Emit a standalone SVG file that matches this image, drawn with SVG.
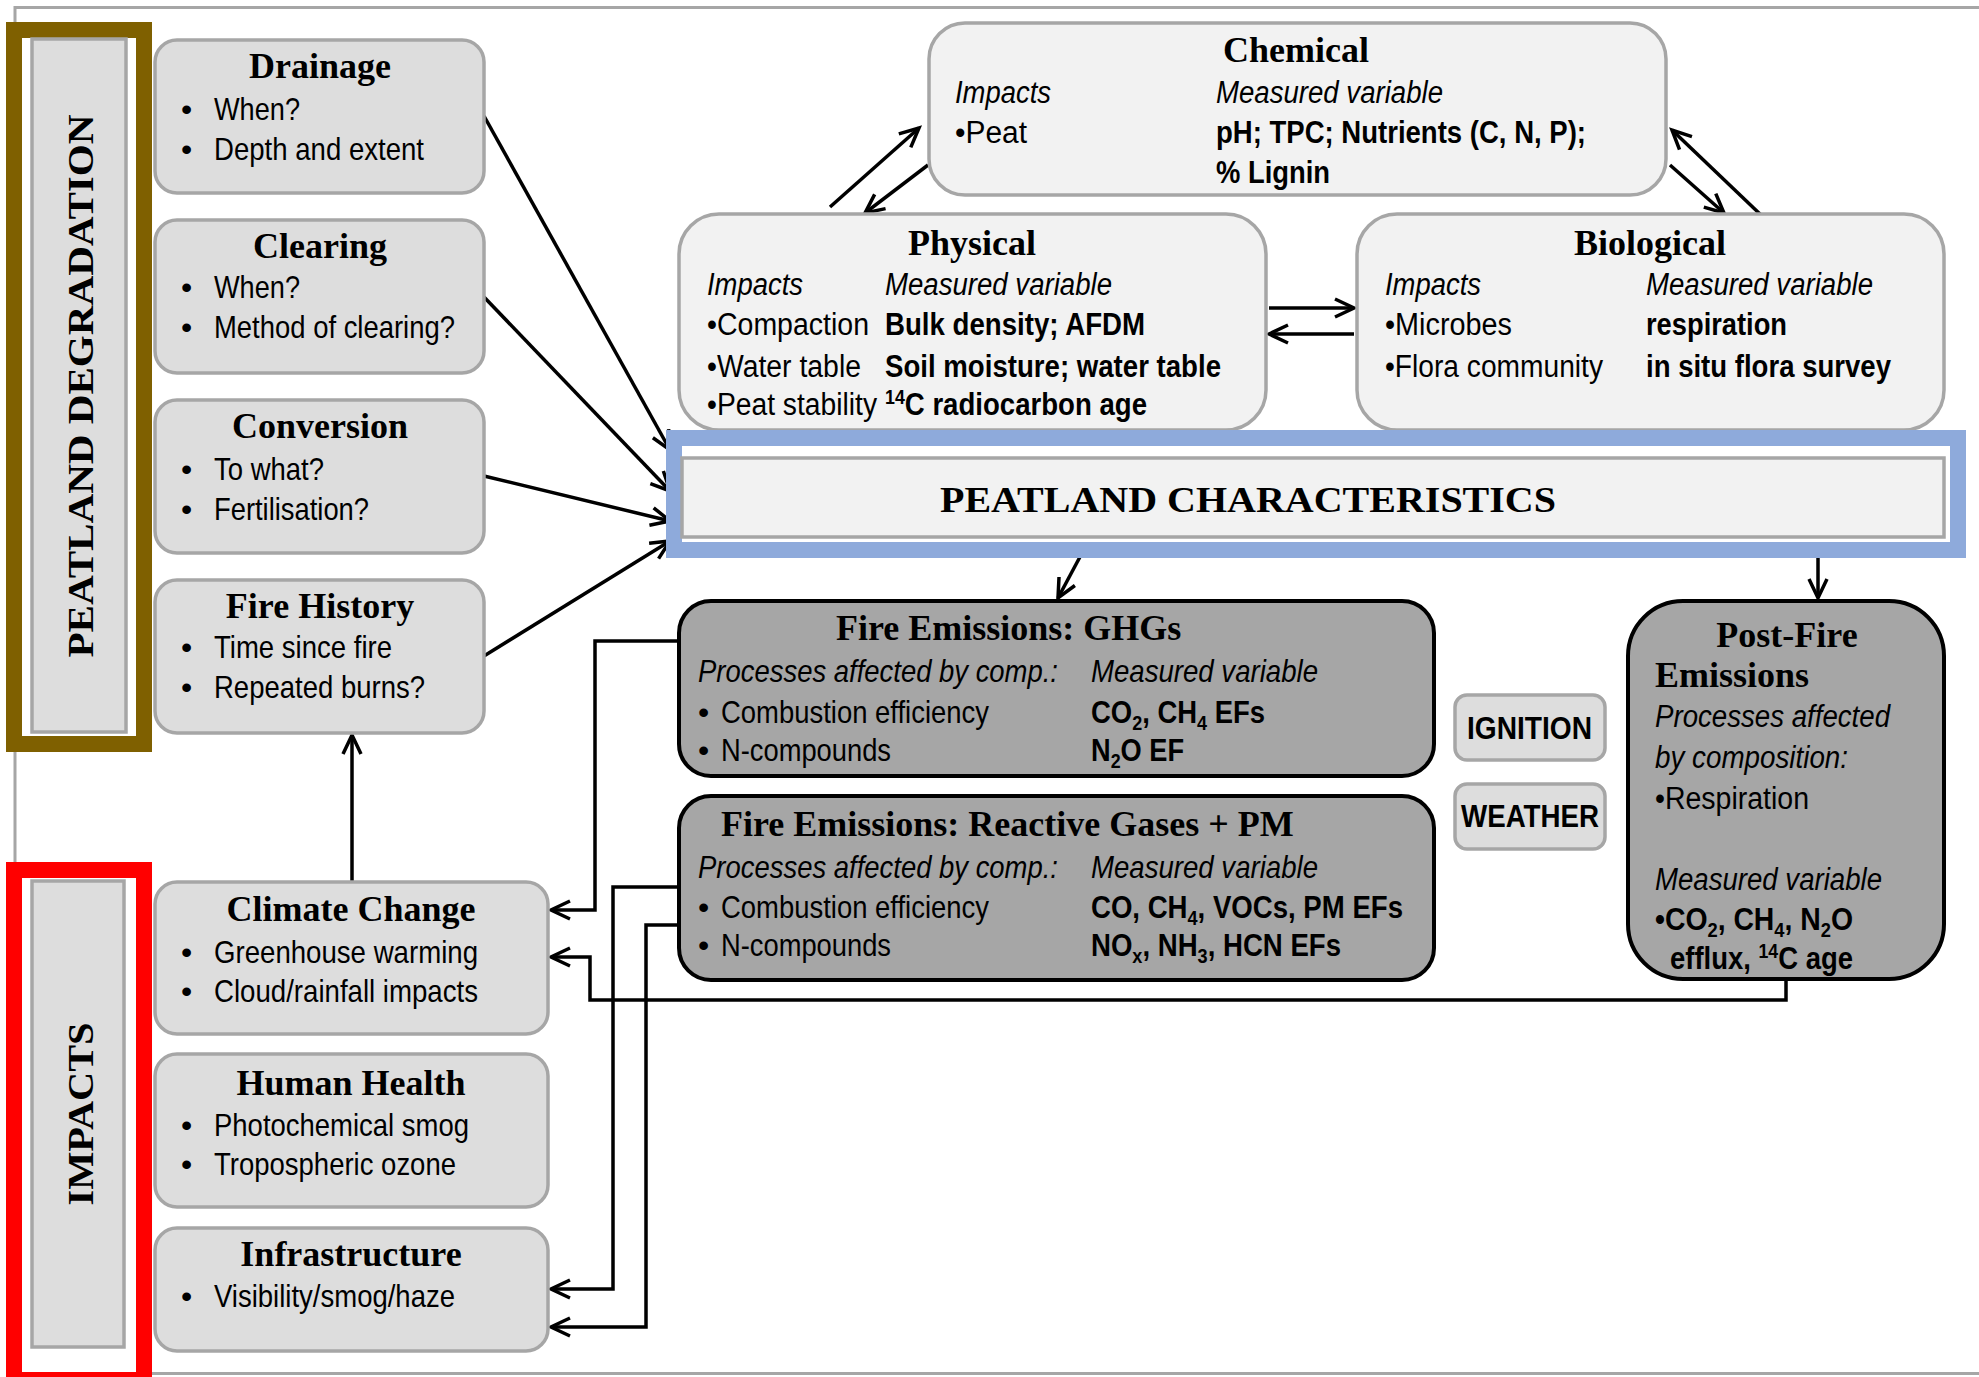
<svg xmlns="http://www.w3.org/2000/svg" width="1979" height="1377" viewBox="0 0 1979 1377">
<defs>
<style>
.t{font-family:"Liberation Serif","Times New Roman",serif;font-weight:bold;font-size:36px;fill:#000}
.s{font-family:"Liberation Sans Narrow","Liberation Sans",Arial,sans-serif;font-size:32px;fill:#000}
.m{font-size:31px}
.i{font-style:italic}
.b{font-weight:bold}
.lb{fill:#dddddd;stroke:#a6a6a6;stroke-width:3.5}
.wb{fill:#f2f2f2;stroke:#a6a6a6;stroke-width:3.5}
.db{fill:#a6a6a6;stroke:#000;stroke-width:4}
.c{fill:none;stroke:#000;stroke-width:3.5;marker-end:url(#arr)}
</style>
<marker id="arr" viewBox="-22 -12 28 24" refX="0" refY="0" markerWidth="28" markerHeight="24" markerUnits="userSpaceOnUse" orient="auto">
<path d="M-19,-9 L0,0 L-19,9" fill="none" stroke="#000" stroke-width="3.5"/>
</marker>
</defs>
<rect width="1979" height="1377" fill="#fff"/>
<rect x="15" y="7.5" width="2000" height="1366" fill="none" stroke="#a6a6a6" stroke-width="3"/>

<g id="connectors">
<line class="c" x1="484" y1="116" x2="670" y2="450"/>
<line class="c" x1="484" y1="297" x2="670" y2="491"/>
<line class="c" x1="484" y1="476" x2="670" y2="521"/>
<line class="c" x1="484" y1="656" x2="670" y2="541"/>
<line class="c" x1="830" y1="207" x2="919" y2="128"/>
<line class="c" x1="928" y1="165" x2="865" y2="213"/>
<line class="c" x1="1761" y1="215" x2="1672" y2="130"/>
<line class="c" x1="1670" y1="165" x2="1724" y2="213"/>
<line class="c" x1="1269" y1="308" x2="1354" y2="308"/>
<line class="c" x1="1354" y1="334" x2="1269" y2="334"/>
<line class="c" x1="1089" y1="540" x2="1058" y2="598"/>
<line class="c" x1="1818" y1="539" x2="1818" y2="598"/>
<line class="c" x1="352" y1="882" x2="352" y2="735"/>
<path class="c" d="M678,641 H595 V910 H551"/>
<path class="c" d="M678,887 H613 V1289 H551"/>
<path class="c" d="M678,925 H646 V1327 H551"/>
<path class="c" d="M1786,979 V1000 H590 V957 H551"/>
</g>

<g id="peatland-degradation">
<rect x="14" y="30" width="130" height="714" fill="none" stroke="#7f6000" stroke-width="16"/>
<rect x="32" y="39" width="94" height="693" class="lb" stroke-width="3"/>
<text class="t" font-size="41" transform="translate(93,386) rotate(-90)" text-anchor="middle" textLength="543" lengthAdjust="spacingAndGlyphs">PEATLAND DEGRADATION</text>
</g>

<g id="impacts">
<rect x="14" y="870" width="130" height="510" fill="none" stroke="#ff0000" stroke-width="16"/>
<rect x="32" y="881" width="92" height="466" class="lb" stroke-width="3"/>
<text class="t" font-size="41" transform="translate(93,1114) rotate(-90)" text-anchor="middle" textLength="183" lengthAdjust="spacingAndGlyphs">IMPACTS</text>
</g>

<g id="drainage">
<rect x="155" y="40" width="329" height="153" rx="22" class="lb"/>
<text class="t" x="320" y="78" text-anchor="middle">Drainage</text>
<text class="s" x="181" y="120">•</text><text class="s" x="214" y="120" textLength="86" lengthAdjust="spacingAndGlyphs">When?</text>
<text class="s" x="181" y="160">•</text><text class="s" x="214" y="160" textLength="210" lengthAdjust="spacingAndGlyphs">Depth and extent</text>
</g>

<g id="clearing">
<rect x="155" y="220" width="329" height="153" rx="22" class="lb"/>
<text class="t" x="320" y="258" text-anchor="middle">Clearing</text>
<text class="s" x="181" y="298">•</text><text class="s" x="214" y="298" textLength="86" lengthAdjust="spacingAndGlyphs">When?</text>
<text class="s" x="181" y="338">•</text><text class="s" x="214" y="338" textLength="241" lengthAdjust="spacingAndGlyphs">Method of clearing?</text>
</g>

<g id="conversion">
<rect x="155" y="400" width="329" height="153" rx="22" class="lb"/>
<text class="t" x="320" y="438" text-anchor="middle">Conversion</text>
<text class="s" x="181" y="480">•</text><text class="s" x="214" y="480" textLength="110" lengthAdjust="spacingAndGlyphs">To what?</text>
<text class="s" x="181" y="520">•</text><text class="s" x="214" y="520" textLength="155" lengthAdjust="spacingAndGlyphs">Fertilisation?</text>
</g>

<g id="fire-history">
<rect x="155" y="580" width="329" height="153" rx="22" class="lb"/>
<text class="t" x="320" y="618" text-anchor="middle">Fire History</text>
<text class="s" x="181" y="658">•</text><text class="s" x="214" y="658" textLength="178" lengthAdjust="spacingAndGlyphs">Time since fire</text>
<text class="s" x="181" y="698">•</text><text class="s" x="214" y="698" textLength="211" lengthAdjust="spacingAndGlyphs">Repeated burns?</text>
</g>

<g id="climate-change">
<rect x="155" y="882" width="393" height="152" rx="22" class="lb"/>
<text class="t" x="351" y="921" text-anchor="middle">Climate Change</text>
<text class="s" x="181" y="963">•</text><text class="s" x="214" y="963" textLength="264" lengthAdjust="spacingAndGlyphs">Greenhouse warming</text>
<text class="s" x="181" y="1002">•</text><text class="s" x="214" y="1002" textLength="264" lengthAdjust="spacingAndGlyphs">Cloud/rainfall impacts</text>
</g>

<g id="human-health">
<rect x="155" y="1054" width="393" height="153" rx="22" class="lb"/>
<text class="t" x="351" y="1095" text-anchor="middle">Human Health</text>
<text class="s" x="181" y="1136">•</text><text class="s" x="214" y="1136" textLength="255" lengthAdjust="spacingAndGlyphs">Photochemical smog</text>
<text class="s" x="181" y="1175">•</text><text class="s" x="214" y="1175" textLength="242" lengthAdjust="spacingAndGlyphs">Tropospheric ozone</text>
</g>

<g id="infrastructure">
<rect x="155" y="1228" width="393" height="123" rx="22" class="lb"/>
<text class="t" x="351" y="1266" text-anchor="middle">Infrastructure</text>
<text class="s" x="181" y="1307">•</text><text class="s" x="214" y="1307" textLength="241" lengthAdjust="spacingAndGlyphs">Visibility/smog/haze</text>
</g>

<g id="chemical">
<rect x="929" y="23" width="737" height="172" rx="36" class="wb"/>
<text class="t" x="1296" y="62" text-anchor="middle">Chemical</text>
<text class="s m i" x="955" y="103" textLength="96" lengthAdjust="spacingAndGlyphs">Impacts</text>
<text class="s m i" x="1216" y="103" textLength="227" lengthAdjust="spacingAndGlyphs">Measured variable</text>
<text class="s m" x="955" y="143" textLength="72" lengthAdjust="spacingAndGlyphs">•Peat</text>
<text class="s m b" x="1216" y="143" textLength="370" lengthAdjust="spacingAndGlyphs">pH; TPC; Nutrients (C, N, P);</text>
<text class="s m b" x="1216" y="183" textLength="114" lengthAdjust="spacingAndGlyphs">% Lignin</text>
</g>

<g id="physical">
<rect x="679" y="214" width="587" height="216" rx="40" class="wb"/>
<text class="t" x="972" y="255" text-anchor="middle">Physical</text>
<text class="s m i" x="707" y="295" textLength="96" lengthAdjust="spacingAndGlyphs">Impacts</text>
<text class="s m i" x="885" y="295" textLength="227" lengthAdjust="spacingAndGlyphs">Measured variable</text>
<text class="s m" x="707" y="335" textLength="162" lengthAdjust="spacingAndGlyphs">•Compaction</text>
<text class="s m b" x="885" y="335" textLength="260" lengthAdjust="spacingAndGlyphs">Bulk density; AFDM</text>
<text class="s m" x="707" y="377" textLength="154" lengthAdjust="spacingAndGlyphs">•Water table</text>
<text class="s m b" x="885" y="377" textLength="336" lengthAdjust="spacingAndGlyphs">Soil moisture; water table</text>
<text class="s m" x="707" y="415" textLength="170" lengthAdjust="spacingAndGlyphs">•Peat stability</text>
<text class="s m b" x="885" y="415" textLength="262" lengthAdjust="spacingAndGlyphs"><tspan font-size="20" dy="-11">14</tspan><tspan dy="11">C radiocarbon age</tspan></text>
</g>

<g id="biological">
<rect x="1357" y="214" width="587" height="216" rx="40" class="wb"/>
<text class="t" x="1650" y="255" text-anchor="middle">Biological</text>
<text class="s m i" x="1385" y="295" textLength="96" lengthAdjust="spacingAndGlyphs">Impacts</text>
<text class="s m i" x="1646" y="295" textLength="227" lengthAdjust="spacingAndGlyphs">Measured variable</text>
<text class="s m" x="1385" y="335" textLength="127" lengthAdjust="spacingAndGlyphs">•Microbes</text>
<text class="s m b" x="1646" y="335" textLength="141" lengthAdjust="spacingAndGlyphs">respiration</text>
<text class="s m" x="1385" y="377" textLength="218" lengthAdjust="spacingAndGlyphs">•Flora community</text>
<text class="s m b" x="1646" y="377" textLength="245" lengthAdjust="spacingAndGlyphs">in situ flora survey</text>
</g>

<g id="peatland-characteristics">
<rect x="674" y="438" width="1284" height="112" fill="#fff" stroke="#8eaadb" stroke-width="16"/>
<rect x="682" y="458" width="1262" height="79" class="wb" stroke-width="3"/>
<text class="t" font-size="44" x="940" y="512" textLength="616" lengthAdjust="spacingAndGlyphs">PEATLAND CHARACTERISTICS</text>
</g>

<g id="fire-emissions-ghgs">
<rect x="679" y="601" width="755" height="175" rx="32" class="db"/>
<text class="t" x="836" y="640">Fire Emissions: GHGs</text>
<text class="s i" x="698" y="682" textLength="360" lengthAdjust="spacingAndGlyphs">Processes affected by comp.:</text>
<text class="s i" x="1091" y="682" textLength="227" lengthAdjust="spacingAndGlyphs">Measured variable</text>
<text class="s" x="698" y="723">•</text><text class="s" x="721" y="723" textLength="268" lengthAdjust="spacingAndGlyphs">Combustion efficiency</text>
<text class="s b" x="1091" y="723" textLength="174" lengthAdjust="spacingAndGlyphs">CO<tspan font-size="21" dy="7">2</tspan><tspan dy="-7">, CH</tspan><tspan font-size="21" dy="7">4</tspan><tspan dy="-7"> EFs</tspan></text>
<text class="s" x="698" y="761">•</text><text class="s" x="721" y="761" textLength="170" lengthAdjust="spacingAndGlyphs">N-compounds</text>
<text class="s b" x="1091" y="761" textLength="93" lengthAdjust="spacingAndGlyphs">N<tspan font-size="21" dy="7">2</tspan><tspan dy="-7">O EF</tspan></text>
</g>

<g id="fire-emissions-reactive">
<rect x="679" y="796" width="755" height="184" rx="32" class="db"/>
<text class="t" x="721" y="836">Fire Emissions: Reactive Gases + PM</text>
<text class="s i" x="698" y="878" textLength="360" lengthAdjust="spacingAndGlyphs">Processes affected by comp.:</text>
<text class="s i" x="1091" y="878" textLength="227" lengthAdjust="spacingAndGlyphs">Measured variable</text>
<text class="s" x="698" y="918">•</text><text class="s" x="721" y="918" textLength="268" lengthAdjust="spacingAndGlyphs">Combustion efficiency</text>
<text class="s b" x="1091" y="918" textLength="312" lengthAdjust="spacingAndGlyphs">CO, CH<tspan font-size="21" dy="7">4</tspan><tspan dy="-7">, VOCs, PM EFs</tspan></text>
<text class="s" x="698" y="956">•</text><text class="s" x="721" y="956" textLength="170" lengthAdjust="spacingAndGlyphs">N-compounds</text>
<text class="s b" x="1091" y="956" textLength="250" lengthAdjust="spacingAndGlyphs">NO<tspan font-size="21" dy="7">x</tspan><tspan dy="-7">, NH</tspan><tspan font-size="21" dy="7">3</tspan><tspan dy="-7">, HCN EFs</tspan></text>
</g>

<g id="ignition">
<rect x="1455" y="695" width="150" height="65" rx="12" class="lb" stroke-width="4"/>
<text class="s b" x="1467" y="739" textLength="125" lengthAdjust="spacingAndGlyphs">IGNITION</text>
</g>

<g id="weather">
<rect x="1455" y="784" width="150" height="65" rx="12" class="lb" stroke-width="4"/>
<text class="s b" x="1461" y="827" textLength="138" lengthAdjust="spacingAndGlyphs">WEATHER</text>
</g>

<g id="post-fire-emissions">
<rect x="1628" y="601" width="316" height="378" rx="55" class="db"/>
<text class="t" x="1787" y="647" text-anchor="middle">Post-Fire</text>
<text class="t" x="1655" y="687">Emissions</text>
<text class="s m i" x="1655" y="727" textLength="235" lengthAdjust="spacingAndGlyphs">Processes affected</text>
<text class="s m i" x="1655" y="768" textLength="193" lengthAdjust="spacingAndGlyphs">by composition:</text>
<text class="s m" x="1655" y="809" textLength="154" lengthAdjust="spacingAndGlyphs">•Respiration</text>
<text class="s m i" x="1655" y="890" textLength="227" lengthAdjust="spacingAndGlyphs">Measured variable</text>
<text class="s m b" x="1655" y="930" textLength="198" lengthAdjust="spacingAndGlyphs">•CO<tspan font-size="20" dy="7">2</tspan><tspan dy="-7">, CH</tspan><tspan font-size="20" dy="7">4</tspan><tspan dy="-7">, N</tspan><tspan font-size="20" dy="7">2</tspan><tspan dy="-7">O</tspan></text>
<text class="s m b" x="1670" y="969" textLength="183" lengthAdjust="spacingAndGlyphs">efflux, <tspan font-size="20" dy="-11">14</tspan><tspan dy="11">C age</tspan></text>
</g>
</svg>
